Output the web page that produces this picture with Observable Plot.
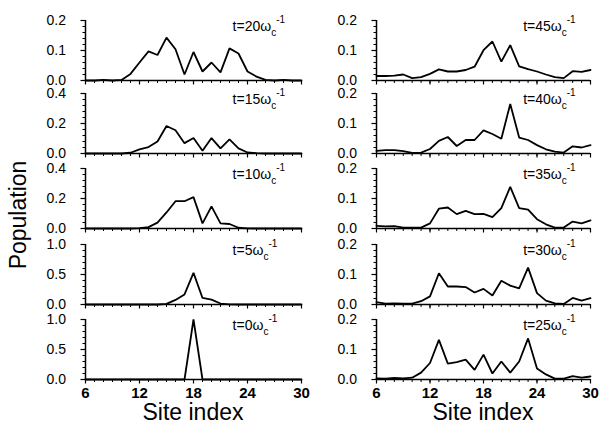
<!DOCTYPE html>
<html>
<head>
<meta charset="utf-8">
<script src="https://cdn.jsdelivr.net/npm/d3@7"></script>
<script src="https://cdn.jsdelivr.net/npm/@observablehq/plot@0.6"></script>
<style>
  body { margin: 0; background: white; }
  #wrap { position: relative; width: 602px; height: 426px; overflow: hidden; font-family: Arial, "Liberation Sans", sans-serif; }
  #wrap > svg { position: absolute; }
</style>
</head>
<body>
<div id="wrap"></div>
<script>
// Site indices (x categories)
const sites = [6,7,8,9,10,11,12,13,14,15,16,17,18,19,20,21,22,23,24,25,26,27,28,29,30];
const xMajor = [6, 12, 18, 24, 30];

// Left column (top to bottom): t = 20, 15, 10, 5, 0
const t20 = [0,0,0.002,0,0.002,0.022,0.06,0.097,0.085,0.143,0.104,0.02,0.095,0.03,0.06,0.027,0.107,0.09,0.03,0.013,0.002,0,0.002,0,0];
const t15 = [0,0,0,0,0,0.005,0.027,0.043,0.08,0.183,0.155,0.069,0.103,0.018,0.103,0.034,0.094,0.034,0.007,0.002,0,0,0,0,0];
const t10 = [0,0,0,0,0,0,0.002,0.009,0.039,0.107,0.182,0.182,0.209,0.034,0.148,0.034,0.03,0.005,0.001,0,0,0,0,0,0];
const t5  = [0,0,0,0,0,0,0,0,0,0.01,0.076,0.168,0.527,0.109,0.082,0.016,0.002,0,0,0,0,0,0,0,0];
const t0  = [0,0,0,0,0,0,0,0,0,0,0,0,1.0,0,0,0,0,0,0,0,0,0,0,0,0];

// Right column (top to bottom): t = 45, 40, 35, 30, 25
const t45 = [0.015,0.015,0.016,0.02,0.008,0.011,0.022,0.037,0.03,0.03,0.035,0.046,0.101,0.13,0.063,0.118,0.047,0.038,0.03,0.02,0.011,0.008,0.031,0.029,0.035];
const t40 = [0.009,0.011,0.011,0.008,0.002,0.003,0.015,0.042,0.055,0.025,0.045,0.045,0.077,0.065,0.049,0.165,0.053,0.045,0.028,0.014,0.006,0.003,0.024,0.02,0.028];
const t35 = [0.009,0.007,0.008,0.003,0.003,0.003,0.017,0.066,0.07,0.048,0.059,0.048,0.049,0.038,0.068,0.139,0.068,0.063,0.031,0.014,0.003,0.003,0.023,0.017,0.027];
const t30 = [0.008,0.003,0.004,0.003,0.003,0.011,0.027,0.104,0.06,0.06,0.058,0.04,0.052,0.03,0.079,0.063,0.054,0.123,0.038,0.013,0.004,0.002,0.022,0.013,0.021];
const t25 = [0.004,0.003,0.005,0.004,0.006,0.023,0.055,0.132,0.053,0.058,0.066,0.032,0.083,0.02,0.06,0.023,0.06,0.137,0.037,0.017,0.003,0.003,0.011,0.006,0.01];

// Y tick sets
const yTicks02 = [0, 0.1, 0.2];
const yMinor02 = [0,0.02,0.04,0.06,0.08,0.1,0.12,0.14,0.16,0.18,0.2];
const yTicks04 = [0, 0.2, 0.4];
const yMinor04 = [0,0.04,0.08,0.12,0.16,0.2,0.24,0.28,0.32,0.36,0.4];
const yTicks10 = [0, 0.5, 1.0];
const yMinor10 = [0,0.1,0.2,0.3,0.4,0.5,0.6,0.7,0.8,0.9,1.0];

const panels = [
  {col: "left", row: 0, values: t20, ticks: yTicks02, minor: yMinor02, ymax: 0.2, t: "20"},
  {col: "left", row: 1, values: t15, ticks: yTicks04, minor: yMinor04, ymax: 0.4, t: "15"},
  {col: "left", row: 2, values: t10, ticks: yTicks04, minor: yMinor04, ymax: 0.4, t: "10"},
  {col: "left", row: 3, values: t5,  ticks: yTicks10, minor: yMinor10, ymax: 1.0, t: "5"},
  {col: "left", row: 4, values: t0,  ticks: yTicks10, minor: yMinor10, ymax: 1.0, t: "0"},
  {col: "right", row: 0, values: t45, ticks: yTicks02, minor: yMinor02, ymax: 0.2, t: "45"},
  {col: "right", row: 1, values: t40, ticks: yTicks02, minor: yMinor02, ymax: 0.2, t: "40"},
  {col: "right", row: 2, values: t35, ticks: yTicks02, minor: yMinor02, ymax: 0.2, t: "35"},
  {col: "right", row: 3, values: t30, ticks: yTicks02, minor: yMinor02, ymax: 0.2, t: "30"},
  {col: "right", row: 4, values: t25, ticks: yTicks02, minor: yMinor02, ymax: 0.2, t: "25"}
];

const baselines = [80, 153, 228, 304, 379];
const colX = {left: {x0: 85, w: 216}, right: {x0: 376, w: 214}};
const ML = 45, MR = 8, MT = 12, PH = 60;
const FONT = 'Arial, "Liberation Sans", sans-serif';
const wrap = document.getElementById("wrap");

for (const p of panels) {
  const bottom = p.row === 4;
  const MB = bottom ? 26 : 8;
  const cx = colX[p.col];
  const data = sites.map((s, i) => ({site: s, pop: p.values[i]}));
  const plot = Plot.plot({
    width: ML + cx.w + MR,
    height: MT + PH + MB,
    marginLeft: ML, marginRight: MR, marginTop: MT, marginBottom: MB,
    style: {background: "transparent", overflow: "visible", fontFamily: FONT, color: "black"},
    x: {domain: [6, 30]},
    y: {domain: [0, p.ymax]},
    marks: [
      Plot.axisY(p.minor, {tickSize: 2.5, tickFormat: () => "", label: null, strokeWidth: 1}),
      Plot.axisY(p.ticks, {tickSize: 4.5, tickPadding: 15, tickFormat: d3.format(".1f"), fontSize: 14, label: null, strokeWidth: 1.2}),
      Plot.axisX(sites, {tickSize: 3, tickFormat: () => "", label: null, strokeWidth: 1}),
      Plot.axisX(xMajor, {tickSize: 4.5, tickPadding: 3, tickFormat: bottom ? (d => String(d)) : (() => ""), fontSize: 15, label: null, strokeWidth: 1.2}),
      Plot.ruleX([6], {strokeWidth: 1.5}),
      Plot.ruleY([0], {strokeWidth: 1.5}),
      Plot.line(data, {x: "site", y: "pop", stroke: "black", strokeWidth: 1.8, strokeLinejoin: "miter"})
    ]
  });
  const svg = d3.select(plot);
  svg.selectAll('[aria-label="x-axis tick label"] text').attr("font-weight", "bold");
  // time label t=..ω_c^-1
  const xs = plot.scale("x");
  const ys = plot.scale("y");
  const tx = xs.apply(p.col === "left" ? 22.4 : 22.5);
  const ty = ys.apply(p.ymax) + 11;
  const txt = svg.append("text")
    .attr("x", tx).attr("y", ty).attr("text-anchor", "start")
    .attr("font-family", FONT).attr("font-size", 14).attr("fill", "black");
  txt.append("tspan").text("t=" + p.t + "ω");
  txt.append("tspan").attr("font-size", 10).attr("dy", 5).text("c");
  txt.append("tspan").attr("font-size", 10).attr("dy", -13).text("-1");

  plot.style.left = (cx.x0 - ML) + "px";
  plot.style.top = (baselines[p.row] - PH - MT) + "px";
  wrap.appendChild(plot);
}

// Axis titles overlay
const ov = d3.select(wrap).append("svg")
  .attr("width", 602).attr("height", 426)
  .style("left", "0px").style("top", "0px").style("pointer-events", "none");
ov.append("text").attr("x", 193).attr("y", 420).attr("text-anchor", "middle")
  .attr("font-family", FONT).attr("font-size", 23).text("Site index");
ov.append("text").attr("x", 483).attr("y", 420).attr("text-anchor", "middle")
  .attr("font-family", FONT).attr("font-size", 23).text("Site index");
ov.append("text").attr("transform", "translate(25.5,215) rotate(-90)").attr("text-anchor", "middle")
  .attr("font-family", FONT).attr("font-size", 23).text("Population");
</script>
</body>
</html>
